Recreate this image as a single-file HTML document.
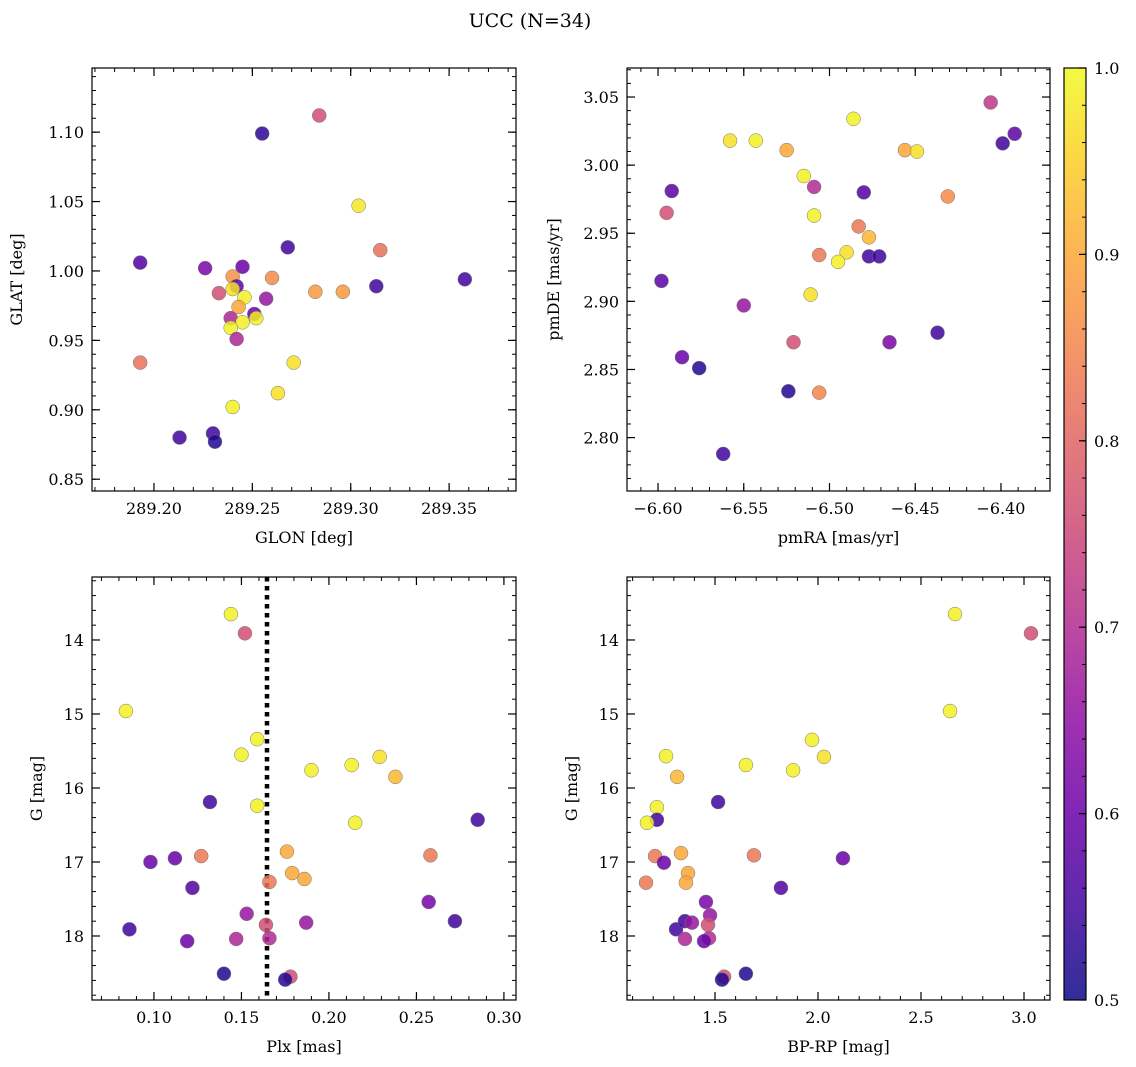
<!DOCTYPE html>
<html><head><meta charset="utf-8"><style>
body{margin:0;background:#fff;}
svg{display:block;font-family:"DejaVu Serif","Liberation Serif",serif;}
</style></head><body>
<svg id="chart" width="1136" height="1067" viewBox="0 0 1136 1067">
<defs>
<linearGradient id="plasma" x1="0" y1="1" x2="0" y2="0">
<stop offset="0" stop-color="#0d0887"/><stop offset="0.1" stop-color="#41049d"/><stop offset="0.2" stop-color="#6a00a8"/><stop offset="0.3" stop-color="#8f0da4"/><stop offset="0.4" stop-color="#b12a90"/><stop offset="0.5" stop-color="#cc4778"/><stop offset="0.6" stop-color="#e16462"/><stop offset="0.7" stop-color="#f2844b"/><stop offset="0.8" stop-color="#fca636"/><stop offset="0.9" stop-color="#fcce25"/><stop offset="1" stop-color="#f0f921"/>
</linearGradient>
</defs>
<text x="530" y="27" font-size="19" text-anchor="middle">UCC (N=34)</text>
</svg>
<script>
// Panel 1: GLON / GLAT
const p1X=[289.255,289.284,289.193,289.226,289.245,289.240,289.260,289.242,289.240,289.233,289.246,289.243,289.239,289.251,289.257,289.252,289.245,289.239,289.242,289.268,289.304,289.315,289.282,289.296,289.313,289.358,289.271,289.193,289.263,289.240,289.213,289.230,289.231];
const p1Y=[1.099,1.112,1.006,1.002,1.003,0.996,0.995,0.989,0.987,0.984,0.981,0.974,0.966,0.969,0.980,0.966,0.963,0.959,0.951,1.017,1.047,1.015,0.985,0.985,0.989,0.994,0.934,0.934,0.912,0.902,0.880,0.883,0.877];
const p1C=[.53,.76,.57,.62,.6,.87,.86,.58,.97,.76,.99,.9,.69,.6,.66,.99,.99,.99,.69,.55,.98,.82,.88,.88,.55,.55,.97,.82,.97,.99,.55,.55,.52];
// Panel 2: pmRA / pmDE
const p2X=[-6.406,-6.392,-6.399,-6.486,-6.558,-6.543,-6.525,-6.456,-6.449,-6.515,-6.509,-6.592,-6.480,-6.431,-6.595,-6.509,-6.483,-6.477,-6.506,-6.490,-6.495,-6.477,-6.471,-6.598,-6.511,-6.550,-6.521,-6.465,-6.437,-6.586,-6.576,-6.524,-6.506,-6.562];
const p2Y=[3.046,3.023,3.016,3.034,3.018,3.018,3.011,3.011,3.010,2.992,2.984,2.981,2.980,2.977,2.965,2.963,2.955,2.947,2.934,2.936,2.929,2.933,2.933,2.915,2.905,2.897,2.870,2.870,2.877,2.859,2.851,2.834,2.833,2.788];
const p2C=[.72,.58,.55,.99,.97,.99,.9,.9,.97,.99,.7,.58,.57,.86,.76,.99,.83,.92,.83,.97,.99,.55,.55,.58,.97,.66,.76,.62,.55,.6,.52,.52,.85,.55];
// Panel 3: Plx / G
const p3X=[0.144,0.152,0.084,0.159,0.150,0.229,0.213,0.190,0.238,0.132,0.159,0.285,0.215,0.258,0.176,0.127,0.112,0.098,0.179,0.166,0.186,0.122,0.257,0.272,0.153,0.086,0.187,0.164,0.147,0.119,0.166,0.140,0.178,0.175];
const p3Y=[13.65,13.91,14.96,15.34,15.55,15.58,15.69,15.76,15.85,16.19,16.24,16.43,16.47,16.91,16.86,16.92,16.95,17.00,17.15,17.27,17.23,17.35,17.54,17.80,17.70,17.91,17.82,17.85,18.04,18.07,18.03,18.51,18.55,18.59];
const p3C=[.99,.76,.99,.99,.99,.97,.99,.99,.92,.55,.99,.55,.99,.83,.9,.83,.6,.6,.9,.83,.9,.57,.62,.55,.66,.55,.66,.76,.69,.6,.7,.52,.76,.52];
const plxLine=0.1646;
// Panel 4: BP-RP / G
const p4X=[2.665,3.034,2.641,1.971,1.262,2.029,1.650,1.879,1.316,1.515,1.218,1.218,1.170,1.689,1.335,1.209,2.121,1.252,1.369,1.359,1.165,1.820,1.456,1.311,1.476,1.354,1.388,1.466,1.354,1.471,1.447,1.650,1.544,1.534];
const p4Y=[13.65,13.91,14.96,15.35,15.57,15.58,15.69,15.76,15.85,16.19,16.26,16.43,16.47,16.91,16.88,16.92,16.95,17.01,17.15,17.28,17.28,17.35,17.54,17.91,17.72,17.80,17.82,17.85,18.04,18.03,18.07,18.51,18.55,18.59];
const p4C=[.99,.76,.99,.99,.99,.97,.99,.99,.92,.55,.99,.55,.99,.83,.9,.83,.6,.6,.9,.9,.83,.57,.62,.55,.66,.55,.66,.76,.69,.7,.6,.52,.76,.52];
// tick labels
const p1XT=[289.20,289.25,289.30,289.35];
const p1YT=[0.85,0.90,0.95,1.00,1.05,1.10];
const p2XT=[-6.60,-6.55,-6.50,-6.45,-6.40];
const p2YT=[2.80,2.85,2.90,2.95,3.00,3.05];
const p3XT=[0.10,0.15,0.20,0.25,0.30];
const gT=[14,15,16,17,18];
const p4XT=[1.5,2.0,2.5,3.0];
const cbT=[0.5,0.6,0.7,0.8,0.9,1.0];

const NS="http://www.w3.org/2000/svg";
const svg=document.getElementById('chart');
function mk(tag,attrs,parent){const e=document.createElementNS(NS,tag);for(const k in attrs)e.setAttribute(k,attrs[k]);(parent||svg).appendChild(e);return e;}
const stops=[[0,[13,8,135]],[0.1,[65,4,157]],[0.2,[106,0,168]],[0.3,[143,13,164]],[0.4,[177,42,144]],[0.5,[204,71,120]],[0.6,[225,100,98]],[0.7,[242,132,75]],[0.8,[252,166,54]],[0.9,[252,206,37]],[1,[240,249,33]]];
function cmap(v){let t=(v-0.5)/0.5;t=Math.max(0,Math.min(1,t));for(let i=1;i<stops.length;i++){if(t<=stops[i][0]){const a=stops[i-1],b=stops[i];const f=(t-a[0])/(b[0]-a[0]);const c=a[1].map((x,j)=>Math.round(x+(b[1][j]-x)*f));return `rgb(${c[0]},${c[1]},${c[2]})`;}}return 'rgb(240,249,33)';}

function panel(o){
  const g=mk('g',{});
  
  
  const sx=v=>o.L+(v-o.xd[0])/(o.xd[1]-o.xd[0])*(o.R-o.L);
  const sy=o.inv?v=>o.T+(v-o.yd[0])/(o.yd[1]-o.yd[0])*(o.B-o.T):v=>o.B-(v-o.yd[0])/(o.yd[1]-o.yd[0])*(o.B-o.T);
  const dec=o.xdec, ydec=o.ydec;
  const mx=o.xmaj/5, my=o.ymaj/5;
  for(let v=Math.ceil(o.xd[0]/mx)*mx; v<=o.xd[1]; v+=mx){const x=sx(v);mk('line',{x1:x,x2:x,y1:o.B,y2:o.B-4,stroke:'#000','stroke-width':1},g);mk('line',{x1:x,x2:x,y1:o.T,y2:o.T+4,stroke:'#000','stroke-width':1},g);}
  const ylo=Math.min(...o.yd), yhi=Math.max(...o.yd);
  for(let v=Math.ceil(ylo/my)*my; v<=yhi; v+=my){const y=sy(v);mk('line',{x1:o.L,x2:o.L+4,y1:y,y2:y,stroke:'#000','stroke-width':1},g);mk('line',{x1:o.R,x2:o.R-4,y1:y,y2:y,stroke:'#000','stroke-width':1},g);}
  o.xt.forEach(v=>{const x=sx(v);mk('line',{x1:x,x2:x,y1:o.B,y2:o.B-8,stroke:'#000','stroke-width':1.2},g);mk('line',{x1:x,x2:x,y1:o.T,y2:o.T+8,stroke:'#000','stroke-width':1.2},g);
    const t=mk('text',{x:x,y:o.B+23,'font-size':16,'text-anchor':'middle'},g);t.textContent=v.toFixed(dec).replace('-','\u2212');
    
    });
  o.yt.forEach(v=>{const y=sy(v);mk('line',{x1:o.L,x2:o.L+8,y1:y,y2:y,stroke:'#000','stroke-width':1.2},g);mk('line',{x1:o.R,x2:o.R-8,y1:y,y2:y,stroke:'#000','stroke-width':1.2},g);
    const t=mk('text',{x:o.L-8,y:y+6,'font-size':16,'text-anchor':'end'},g);t.textContent=v.toFixed(ydec);
    
    });
  if(o.vline!==undefined){const l=mk('line',{x1:sx(o.vline),x2:sx(o.vline),y1:o.T,y2:o.B,stroke:'#000','stroke-width':4.5,'stroke-dasharray':'4.5,4.5'},g);
    
    }
  o.xs.forEach((v,i)=>{const c=mk('circle',{cx:sx(v),cy:sy(o.ys[i]),r:7,fill:cmap(o.cs[i]),'fill-opacity':0.85,stroke:'#777','stroke-width':0.5},g);
    
    });
  const fr=mk('rect',{x:o.L,y:o.T,width:o.R-o.L,height:o.B-o.T,fill:'none',stroke:'#000','stroke-width':1.2},g);
  
  
  const xl=mk('text',{x:(o.L+o.R)/2,y:o.B+52,'font-size':16,'text-anchor':'middle'},g);xl.textContent=o.xlab;
  
  
  const cy=(o.T+o.B)/2, cx=o.L-o.ylabOff;
  const yl=mk('text',{x:cx,y:cy,'font-size':16,'text-anchor':'middle',transform:`rotate(-90 ${cx} ${cy})`},g);yl.textContent=o.ylab;
  
  
}
panel({name:'glon-glat-panel',L:92,R:516,T:68,B:491,xd:[289.1685,289.384],yd:[0.8415,1.1462],xmaj:0.05,ymaj:0.05,xt:p1XT,yt:p1YT,xdec:2,ydec:2,xs:p1X,ys:p1Y,cs:p1C,xlab:'GLON [deg]',ylab:'GLAT [deg]',ylabOff:70});
panel({name:'pm-panel',L:627,R:1050,T:68,B:491,xd:[-6.6181,-6.3714],yd:[2.7608,3.0713],xmaj:0.05,ymaj:0.05,xt:p2XT,yt:p2YT,xdec:2,ydec:2,xs:p2X,ys:p2Y,cs:p2C,xlab:'pmRA [mas/yr]',ylab:'pmDE [mas/yr]',ylabOff:68});
panel({name:'plx-g-panel',L:92,R:516,T:577,B:1000,inv:true,xd:[0.0646,0.3069],yd:[13.149,18.865],xmaj:0.05,ymaj:1,xt:p3XT,yt:gT,xdec:2,ydec:0,xs:p3X,ys:p3Y,cs:p3C,xlab:'Plx [mas]',ylab:'G [mag]',ylabOff:50,vline:plxLine});
panel({name:'color-magnitude-panel',L:627,R:1050,T:577,B:1000,inv:true,xd:[1.0728,3.1262],yd:[13.149,18.865],xmaj:0.5,ymaj:1,xt:p4XT,yt:gT,xdec:1,ydec:0,xs:p4X,ys:p4Y,cs:p4C,xlab:'BP-RP [mag]',ylab:'G [mag]',ylabOff:50});
// colorbar
const cb=mk('g',{});


mk('rect',{x:1064,y:68,width:22,height:932,fill:'url(#plasma)','fill-opacity':0.85},cb);
mk('rect',{x:1064,y:68,width:22,height:932,fill:'none',stroke:'#000','stroke-width':1.2},cb);
const cy0=v=>1000-(v-0.5)/0.5*932;
for(let v=0.5;v<=1.0001;v+=0.02){const y=cy0(v);mk('line',{x1:1086,x2:1082,y1:y,y2:y,stroke:'#000','stroke-width':1},cb);}
cbT.forEach(v=>{const y=cy0(v);mk('line',{x1:1086,x2:1079,y1:y,y2:y,stroke:'#000','stroke-width':1.2},cb);
  const t=mk('text',{x:1094,y:y+6,'font-size':16},cb);t.textContent=v.toFixed(1);
  
  });
</script>
</body></html>
